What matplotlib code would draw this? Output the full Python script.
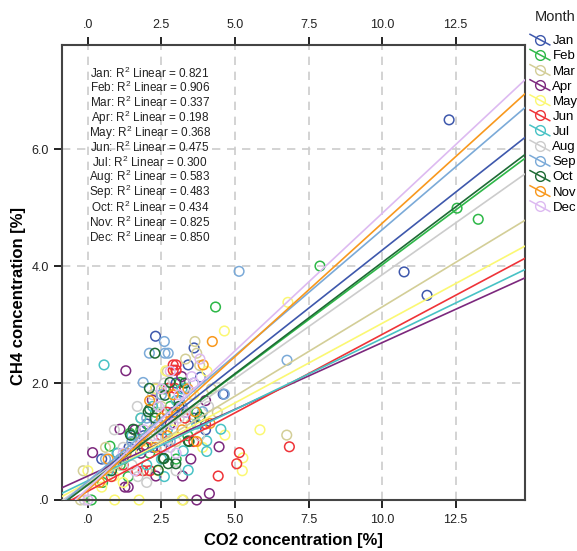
import numpy as np
import matplotlib
matplotlib.use("Agg")
import matplotlib.pyplot as plt
from matplotlib.lines import Line2D
from matplotlib.legend_handler import HandlerBase

plt.rcParams['font.family'] = ['Liberation Sans', 'DejaVu Sans']
plt.rcParams['mathtext.default'] = 'regular'

# === Data ===
months = ["Jan", "Feb", "Mar", "Apr", "May", "Jun",
          "Jul", "Aug", "Sep", "Oct", "Nov", "Dec"]
colors = ["#3E58AC", "#2EB848", "#D3CE97", "#7C287D", "#FBF873", "#EF3338",
          "#48C2C5", "#CCCCCC", "#7BAAD8", "#1E6B35", "#F8981D", "#DDBAF1"]
r2 = [0.821, 0.906, 0.337, 0.198, 0.368, 0.475,
      0.300, 0.583, 0.483, 0.434, 0.825, 0.850]
# fitted lines (slope, intercept) per month
slopes = [0.397, 0.375, 0.305, 0.228, 0.272, 0.268,
          0.243, 0.355, 0.430, 0.380, 0.456, 0.470]
intercepts = [0.30, 0.27, 0.25, 0.41, 0.30, 0.15,
              0.33, 0.30, 0.32, 0.26, 0.17, 0.20]

co2_jan = [12.28, 10.75, 11.53, 2.30, 3.61, 3.41, 3.83, 4.60, 0.47, 2.9, 3.1, 2.5, 1.9, 1.0, 3.3, 2.7, 3.6, 2.2, 1.4, 3.0, 2.0, 4.0]
ch4_jan = [6.50, 3.90, 3.50, 2.80, 2.60, 2.31, 2.10, 1.81, 0.70, 1.5, 1.7, 1.2, 1.1, 0.8, 1.9, 1.0, 1.4, 0.9, 0.9, 2.0, 1.3, 1.2]
co2_feb = [12.55, 13.27, 7.89, 4.34, 0.12, 0.75, 1.37, 1.43, 3.13, 2.4, 2.8, 3.4, 2.1, 1.8, 3.0, 2.6, 3.7, 1.1, 2.3, 0.5]
ch4_feb = [4.99, 4.80, 4.00, 3.30, 0.0, 0.92, 0.40, 1.14, 2.01, 1.3, 1.6, 1.1, 0.8, 1.2, 0.7, 1.9, 1.5, 0.6, 1.5, 0.3]
co2_mar = [6.76, 3.64, 3.70, 3.32, -0.16, -0.25, 3.24, 2.0, 2.9, 1.5, 2.5, 3.5, 4.2, 1.0, 2.2, 3.0, 0.6, 1.8, 4.4, 2.7, 3.8]
ch4_mar = [1.11, 2.71, 2.51, 2.41, 0.50, 0.0, 0.0, 0.5, 1.8, 1.0, 1.6, 1.3, 1.9, 0.6, 1.2, 1.0, 0.9, 1.4, 1.5, 2.2, 2.3]
co2_apr = [1.29, 0.16, 1.26, 1.37, 2.31, 3.22, 4.46, 4.13, 3.70, 1.09, 1.6, 2.19, 3.19, 2.5, 3.5, 2.8, 1.8, 3.3, 2.3, 4.0]
ch4_apr = [2.21, 0.81, 0.22, 0.22, 0.41, 0.41, 0.91, 0.11, 0.0, 1.21, 1.2, 1.71, 2.11, 0.9, 0.7, 1.3, 0.8, 1.5, 1.9, 1.7]
co2_may = [6.80, 4.64, 5.85, 5.27, 5.25, 4.66, 4.05, 2.65, 2.30, 0.47, 0.88, 0.91, 1.74, 3.21, 2.4, 1.5, 2.9, 3.6, 2.0, 3.9, 0.0, 1.2]
ch4_may = [3.38, 2.89, 1.20, 0.72, 0.50, 1.11, 2.20, 2.21, 1.90, 0.22, 0.41, 0.0, 0.0, 0.0, 0.5, 0.8, 1.2, 1.8, 1.0, 0.9, 0.5, 0.3]
co2_jun = [6.85, 5.15, 5.06, 4.43, 2.90, 3.00, 2.90, 3.00, 2.96, 2.73, 1.66, 1.88, 2.11, 2.5, 3.3, 1.2, 2.0, 3.6, 2.7, 0.8, 4.0]
ch4_jun = [0.91, 0.81, 0.62, 0.41, 2.31, 2.31, 2.22, 2.22, 1.91, 1.91, 0.50, 0.50, 0.50, 1.1, 1.4, 0.6, 0.9, 1.0, 1.5, 0.4, 1.3]
co2_jul = [0.55, 4.52, 4.04, 4.04, 3.24, 3.41, 2.2, 1.5, 2.0, 2.7, 3.0, 1.0, 2.5, 3.7, 1.8, 2.6, 3.2, 0.7]
ch4_jul = [2.31, 1.21, 1.01, 0.83, 0.84, 0.51, 1.6, 1.1, 0.6, 1.2, 1.7, 0.8, 0.7, 1.3, 1.4, 0.4, 1.9, 0.5]
co2_aug = [1.68, 1.70, -0.12, 2.0, 2.4, 2.8, 3.1, 1.2, 3.5, 2.2, 0.9, 3.8, 2.6, 1.5, 3.0, 4.1, 2.5]
ch4_aug = [1.60, 0.40, 0.0, 0.3, 1.1, 0.9, 1.4, 0.9, 1.8, 1.8, 1.2, 1.1, 2.0, 0.6, 0.5, 1.6, 1.5]
co2_sep = [5.14, 6.77, 2.09, 2.62, 2.73, 2.60, 1.88, 4.64, 3.90, 2.4, 1.5, 3.2, 1.1, 2.8, 2.0, 3.6, 0.6, 2.5]
ch4_sep = [3.91, 2.39, 2.51, 2.51, 2.51, 2.71, 2.01, 1.81, 1.51, 1.3, 1.0, 1.6, 0.7, 1.0, 1.4, 2.0, 0.7, 1.8]
co2_oct = [2.28, 2.09, 2.79, 2.62, 2.10, 2.28, 1.54, 1.45, 3.44, 2.59, 2.73, 2.99, 2.39, 3.81, 3.41, 2.56, 1.9, 3.1, 3.3, 1.2, 0.8, 2.05]
ch4_oct = [2.51, 1.91, 2.01, 1.79, 1.55, 1.40, 1.21, 1.11, 1.00, 0.71, 0.62, 0.62, 0.51, 1.42, 1.01, 0.71, 0.9, 1.6, 2.0, 0.7, 0.5, 1.51]
co2_nov = [4.23, 3.92, 3.64, 4.15, 0.69, 2.5, 2.9, 3.2, 1.8, 2.3, 3.4, 1.3, 2.7, 3.0, 2.1, 0.4, 3.7]
ch4_nov = [2.71, 2.31, 1.51, 1.31, 0.70, 1.4, 1.8, 1.2, 1.0, 0.9, 1.9, 0.8, 1.1, 1.5, 1.7, 0.3, 1.0]
co2_dec = [3.81, 3.53, 2.4, 2.9, 3.1, 1.9, 2.6, 3.3, 0.0, 1.2, 2.2, 3.6, 2.8, 1.6, 3.0, 2.5]
ch4_dec = [2.41, 2.11, 1.6, 1.3, 1.8, 1.2, 0.9, 1.5, 0.0, 0.8, 1.1, 2.0, 2.2, 0.5, 0.8, 1.9]

co2 = [co2_jan, co2_feb, co2_mar, co2_apr, co2_may, co2_jun,
       co2_jul, co2_aug, co2_sep, co2_oct, co2_nov, co2_dec]
ch4 = [ch4_jan, ch4_feb, ch4_mar, ch4_apr, ch4_may, ch4_jun,
       ch4_jul, ch4_aug, ch4_sep, ch4_oct, ch4_nov, ch4_dec]

x_ticks = [0, 2.5, 5.0, 7.5, 10.0, 12.5]
x_ticklabels = [".0", "2.5", "5.0", "7.5", "10.0", "12.5"]
y_ticks = [0, 2, 4, 6]
y_ticklabels = [".0", "2.0", "4.0", "6.0"]


class CircleLineHandler(HandlerBase):
    """Legend key: open circle with a slanted fit line through it."""
    def create_artists(self, legend, orig_handle, xdescent, ydescent,
                       width, height, fontsize, trans):
        c = orig_handle.get_color()
        x0, x1 = -xdescent, width - xdescent
        y0, y1 = -ydescent, height - ydescent
        ln = Line2D([x0, x1], [y1 + 0.5, y0 - 0.5], color=c, lw=1.1, transform=trans)
        mk = Line2D([(x0 + x1) / 2], [(y0 + y1) / 2], marker="o", markersize=7,
                    markerfacecolor="none", markeredgecolor=c, markeredgewidth=1.0,
                    linestyle="none", transform=trans)
        return [ln, mk]


fig = plt.figure(figsize=(5.77, 5.51), dpi=100)
ax = fig.add_axes([62 / 577, 1 - 500 / 551, 463 / 577, 455 / 551])

xlim = (-0.88, 14.86)
ylim = (0, 7.78)

# points
for i, m in enumerate(months):
    ax.scatter(co2[i], ch4[i], s=48, facecolors="none", edgecolors=colors[i],
               linewidths=1.1, zorder=2, clip_on=False)

# fit lines
xx = np.array(xlim)
handles = []
for i, m in enumerate(months):
    ax.plot(xx, slopes[i] * xx + intercepts[i], color=colors[i], lw=1.2, zorder=3)
    handles.append(Line2D([], [], color=colors[i], label=m))

ax.set_xlim(*xlim)
ax.set_ylim(*ylim)
ax.set_xticks(x_ticks)
ax.set_xticklabels(x_ticklabels)
ax.set_yticks(y_ticks)
ax.set_yticklabels(y_ticklabels)
ax.tick_params(axis="both", direction="out", length=6, width=1.4, colors="#222222",
               labelsize=9, labelcolor="#222222")
ax.tick_params(axis="x", top=True, labeltop=True, pad=4)
ax.tick_params(axis="y", right=False)
ax.grid(True, ls=(0, (5, 4)), color="#cccccc", lw=1.2)
ax.set_axisbelow(True)
for sp in ax.spines.values():
    sp.set_color("#444444")
    sp.set_linewidth(1.5)

ax.set_xlabel("CO2 concentration [%]", fontsize=12, fontweight="bold", labelpad=5)
ax.set_ylabel("CH4 concentration [%]", fontsize=12, fontweight="bold")
ax.yaxis.set_label_coords(-0.078, 0.448)

# R2 annotations (positions in pixels from the top-left of the figure)
for i, m in enumerate(months):
    ax.text(150 / 100, (551 - (73 + 14.9 * i)) / 100,
            f"{m}: $\\mathregular{{R^2}}$ Linear = {r2[i]:.3f}",
            transform=fig.dpi_scale_trans, fontsize=8.5, ha="center", va="center",
            color="#222222")

fig.text(535 / 577, 1 - 17 / 551, "Month", fontsize=10.5, ha="left", va="center",
         color="#222222")
leg = fig.legend(handles=handles, handler_map={Line2D: CircleLineHandler()},
                 loc="upper left", bbox_to_anchor=(530 / 577, 1 - 35 / 551),
                 frameon=False, fontsize=9.5,
                 handlelength=1.5, handletextpad=0.2, labelspacing=0.22,
                 borderpad=0, borderaxespad=0)

fig.savefig("out.png", dpi=100)
